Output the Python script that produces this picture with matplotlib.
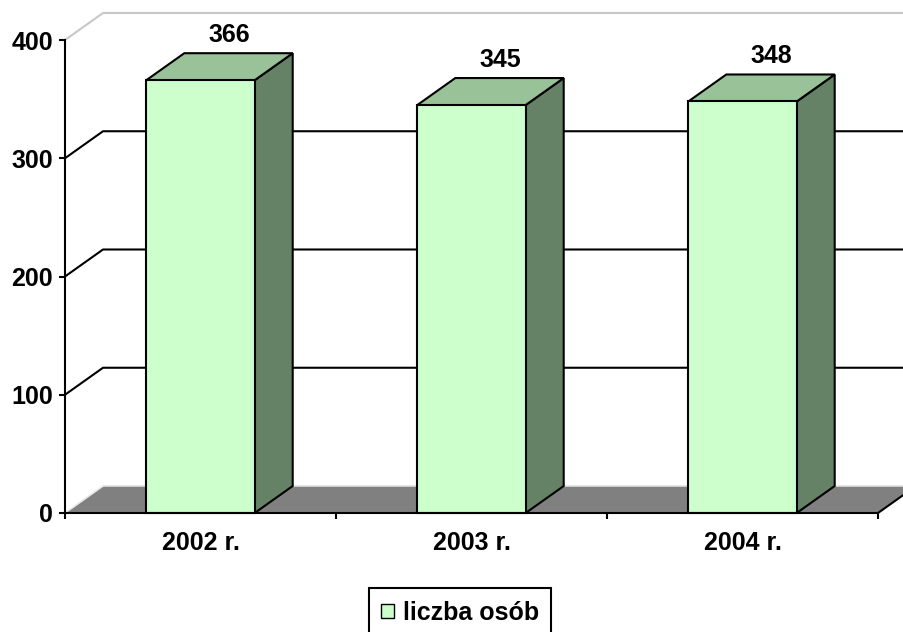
import matplotlib
matplotlib.use("Agg")
import matplotlib.pyplot as plt
from matplotlib.patches import Polygon, Rectangle, Patch

categories = ["2002 r.", "2003 r.", "2004 r."]
values = [366, 345, 348]
yticks = [0, 100, 200, 300, 400]
series_name = "liczba osób"

plt.rcParams['font.family'] = ['Liberation Sans', 'DejaVu Sans']
plt.rcParams['font.weight'] = 'bold'
FS = 18
LW = 1.5

W, H = 904, 632
fig = plt.figure(figsize=(W / 100, H / 100), dpi=100)
x0, x1, ytop, ybot = 65, 878, 40, 513
ax = fig.add_axes([x0 / W, 1 - ybot / H, (x1 - x0) / W, (ybot - ytop) / H])
ax.set_xlim(0, len(categories))
ax.set_ylim(0, 400)

# depth offsets in data units
px_per_x = (x1 - x0) / len(categories)
px_per_y = (ybot - ytop) / 400
dx = 38 / px_per_x
dy = 27 / px_per_y
xr = (W - x0) / px_per_x  # right edge of figure in data units
n = len(categories)

# floor
floor = Polygon([(0, 0), (n, 0), (n + dx, dy), (dx, dy)], closed=True,
                facecolor='#808080', edgecolor='none', zorder=1, clip_on=False)
ax.add_patch(floor)
ax.plot([dx, xr], [dy, dy], color='#E0E0E0', lw=1.2, zorder=1.5, clip_on=False)
ax.plot([0, dx], [0, dy], color='#E8E8E8', lw=1.2, zorder=1.5, clip_on=False)
ax.plot([n, n + dx], [0, dy], color='black', lw=LW, zorder=1.5, clip_on=False)

# gridlines (left wall + back wall)
for v in yticks[1:-1]:
    ax.plot([0, dx, xr], [v, v + dy, v + dy], color='black', lw=LW,
            zorder=2, clip_on=False)
ax.plot([0, dx, xr], [400, 400 + dy, 400 + dy], color='#C8C8C8', lw=1.5,
        zorder=2, clip_on=False)

# bars
bw = 0.4
for i, v in enumerate(values):
    c = i + 0.5
    l, r = c - bw / 2, c + bw / 2
    ek = dict(edgecolor='black', lw=LW, joinstyle='miter', clip_on=False)
    ax.add_patch(Polygon([(r, 0), (r + dx, dy), (r + dx, v + dy), (r, v)],
                         closed=True, facecolor='#668266', zorder=3, **ek))
    ax.add_patch(Polygon([(l, v), (r, v), (r + dx, v + dy), (l + dx, v + dy)],
                         closed=True, facecolor='#99C299', zorder=3, **ek))
    ax.add_patch(Rectangle((l, 0), bw, v, facecolor='#CCFFCC', zorder=4, **ek))
    ax.annotate(str(v), xy=(c + 0.75 * dx, v + dy), xytext=(0, 11),
                textcoords='offset pixels', ha='center', va='baseline',
                fontsize=FS, fontweight='bold', annotation_clip=False)

# axes styling
for s in ['top', 'right']:
    ax.spines[s].set_visible(False)
for s in ['left', 'bottom']:
    ax.spines[s].set_linewidth(LW)
    ax.spines[s].set_zorder(5)
ax.set_yticks(yticks)
ax.set_yticklabels([str(t) for t in yticks])
ax.tick_params(axis='y', direction='out', length=4.5, width=LW, pad=4,
               labelsize=FS)
ax.set_xticks(range(n + 1))
ax.set_xticklabels([])
ax.tick_params(axis='x', which='major', direction='out', length=4.5, width=LW)
ax.set_xticks([i + 0.5 for i in range(n)], minor=True)
ax.set_xticklabels(categories, minor=True)
ax.tick_params(axis='x', which='minor', length=0, pad=13, labelsize=FS)
for lab in ax.get_xticklabels(minor=True) + ax.get_yticklabels():
    lab.set_fontweight('bold')
ax.patch.set_visible(False)

# legend
handle = Patch(facecolor='#CCFFCC', edgecolor='black', lw=1)
leg = fig.legend([handle], [series_name], loc='upper center',
                 bbox_to_anchor=(460 / W, 1 - 588 / H), borderaxespad=0,
                 frameon=True, fancybox=False, edgecolor='black', framealpha=1,
                 prop={'size': FS, 'weight': 'bold'}, handlelength=0.5,
                 handleheight=0.5, handletextpad=0.35, borderpad=0.5)
leg.get_frame().set_linewidth(LW)

fig.savefig("out.png", dpi=100)
